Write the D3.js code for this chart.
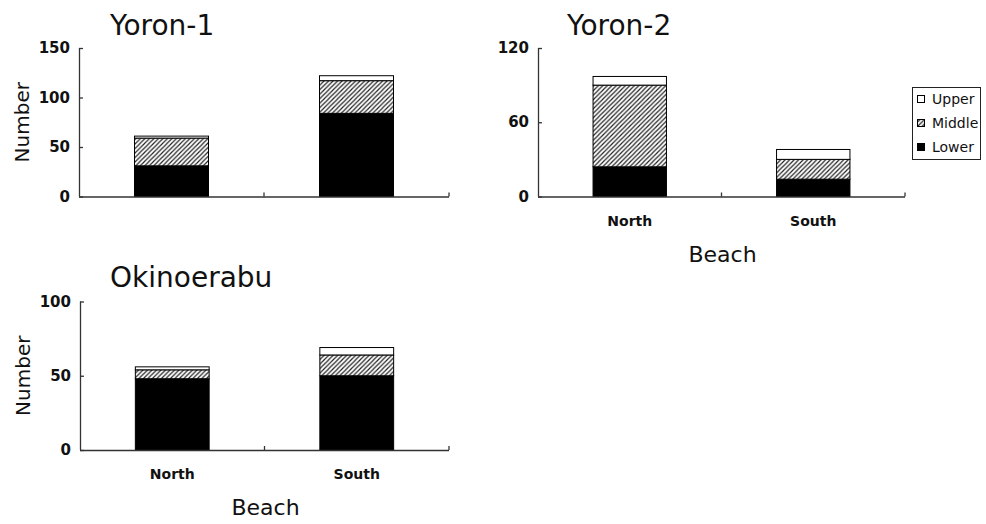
<!DOCTYPE html>
<html lang="en">
<head>
    <meta charset="UTF-8">
    <title>Beach</title>
    <script src="https://cdn.jsdelivr.net/npm/d3@7"></script>
    <style>
        body{margin:0; background:#fff;}
        svg{display:block;}
        text{font-family:"DejaVu Sans", sans-serif; fill:#111;}
    </style>
</head>
<body>
<div id="chart"></div>
<script>
    // data
    var sites=['Yoron-1','Yoron-2','Okinoerabu'];
    var beaches=['North','South'];
    var layers=['Lower','Middle','Upper'];
    var lower=[[31,84],[24,14],[48,50]];
    var middle=[[28,33],[66,16],[6,14]];
    var upper=[[2,5],[7,8],[2,5]];
    var yMax=[150,120,100];
    var yTicks=[[0,50,100,150],[0,60,120],[0,50,100]];

    // panel boxes
    var panels=[
        {x0:79, x1:449, y0:48, y1:196.5, title:[110,35], showX:false, showY:true},
        {x0:538, x1:905, y0:48, y1:196.5, title:[567,35], showX:true, showY:false},
        {x0:80, x1:449, y0:301.5, y1:450, title:[110,287], showX:true, showY:true}
    ];

    var svg=d3.select('#chart').append('svg')
        .attr('width',986).attr('height',524);

    var defs=svg.append('defs');
    var pat=defs.append('pattern')
        .attr('id','hatch')
        .attr('patternUnits','userSpaceOnUse')
        .attr('width',4.5).attr('height',4.5);
    pat.append('rect').attr('width',4.5).attr('height',4.5).attr('fill','#fff');
    pat.append('path')
        .attr('d','M-1,1 L1,-1 M0,4.5 L4.5,0 M3.5,5.5 L5.5,3.5')
        .attr('stroke','#222').attr('stroke-width',1.2);

    var fills={Lower:'#000',Middle:'url(#hatch)',Upper:'#fff'};

    panels.forEach(function(p,k){
        var g=svg.append('g');
        var x=d3.scaleBand().domain(beaches).range([p.x0,p.x1])
            .paddingInner(0.6).paddingOuter(0.3);
        var y=d3.scaleLinear().domain([0,yMax[k]]).range([p.y1,p.y0]);

        var rows=beaches.map(function(b,i){
            return {beach:b,Lower:lower[k][i],Middle:middle[k][i],Upper:upper[k][i]};
        });
        var stack=d3.stack().keys(layers)(rows);

        g.selectAll('g.layer')
            .data(stack)
            .enter().append('g')
            .attr('class','layer')
            .attr('fill',function(d){return fills[d.key];})
            .selectAll('rect')
            .data(function(d){return d;})
            .enter().append('rect')
            .attr('x',function(d){return x(d.data.beach);})
            .attr('width',x.bandwidth())
            .attr('y',function(d){return y(d[1]);})
            .attr('height',function(d){return y(d[0])-y(d[1]);})
            .attr('stroke','#000')
            .attr('stroke-width',1);

        // y axis, ticks pointing inward
        var yAxis=d3.axisRight(y).tickValues(yTicks[k]).tickSize(4).tickFormat('');
        var ya=g.append('g').attr('transform','translate('+p.x0+',0)').call(yAxis);
        ya.select('.domain').attr('d','M'+0.5+','+p.y0+'V'+p.y1);
        ya.selectAll('line,path').attr('stroke','#333').attr('stroke-width',1.3);
        g.selectAll('text.ytick')
            .data(yTicks[k])
            .enter().append('text')
            .attr('class','ytick')
            .attr('x',p.x0-9)
            .attr('y',function(d){return y(d)+5;})
            .attr('text-anchor','end')
            .style('font-size','15px')
            .style('font-weight','bold')
            .text(function(d){return d;});

        // x axis with boundary ticks
        var step=x.step();
        var bounds=[p.x0+step,p.x1];
        g.append('line')
            .attr('x1',p.x0).attr('x2',p.x1)
            .attr('y1',p.y1+0.5).attr('y2',p.y1+0.5)
            .attr('stroke','#333').attr('stroke-width',1.3);
        g.selectAll('line.xt')
            .data(bounds)
            .enter().append('line')
            .attr('class','xt')
            .attr('x1',function(d){return d;}).attr('x2',function(d){return d;})
            .attr('y1',p.y1).attr('y2',p.y1-4)
            .attr('stroke','#333').attr('stroke-width',1.3);

        if(p.showX){
            g.selectAll('text.xl')
                .data(beaches)
                .enter().append('text')
                .attr('class','xl')
                .attr('x',function(d){return x(d)+x.bandwidth()/2;})
                .attr('y',p.y1+29)
                .attr('text-anchor','middle')
                .style('font-size','14px')
                .style('font-weight','bold')
                .text(function(d){return d;});
            g.append('text')
                .attr('x',(p.x0+p.x1)/2+1)
                .attr('y',p.y1+65)
                .attr('text-anchor','middle')
                .style('font-size','22px')
                .text('Beach');
        }
        if(p.showY){
            g.append('text')
                .attr('transform','translate('+(p.x0-50)+','+((p.y0+p.y1)/2)+') rotate(-90)')
                .attr('text-anchor','middle')
                .style('font-size','20px')
                .text('Number');
        }
        g.append('text')
            .attr('x',p.title[0]).attr('y',p.title[1])
            .style('font-size','28px')
            .text(sites[k]);
    });

    // legend
    var leg=svg.append('g');
    leg.append('rect')
        .attr('x',912.5).attr('y',87.5).attr('width',68).attr('height',72)
        .attr('fill','#fff').attr('stroke','#222').attr('stroke-width',1);
    var legItems=layers.slice().reverse();
    var ly=d3.scalePoint().domain(legItems).range([104,152]);
    leg.selectAll('rect.key')
        .data(legItems)
        .enter().append('rect')
        .attr('class','key')
        .attr('x',917.5).attr('y',function(d){return ly(d)-8.5;})
        .attr('width',7).attr('height',7)
        .attr('fill',function(d){return fills[d];})
        .attr('stroke','#000').attr('stroke-width',1);
    leg.selectAll('text.key')
        .data(legItems)
        .enter().append('text')
        .attr('class','key')
        .attr('x',932).attr('y',function(d){return ly(d);})
        .style('font-size','14px')
        .text(function(d){return d;});
</script>
</body>
</html>
